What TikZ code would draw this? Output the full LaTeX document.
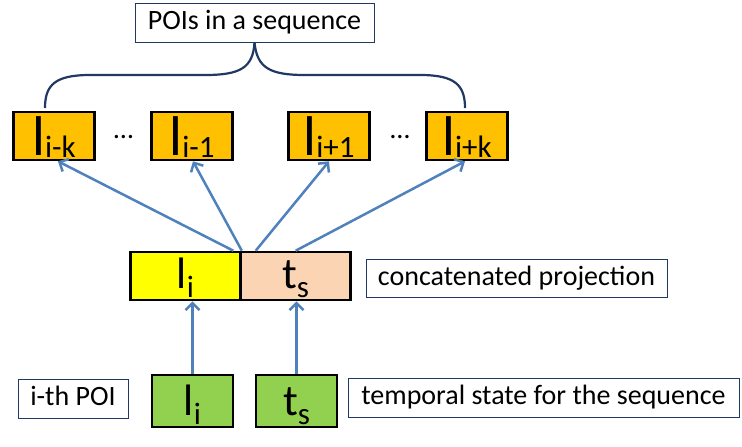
\documentclass[tikz,border=0pt]{standalone}
\usepackage{fontspec}
\setmainfont{Carlito}
\usetikzlibrary{arrows.meta}
\definecolor{ctxorange}{HTML}{FFC000}
\definecolor{projyellow}{HTML}{FFFF00}
\definecolor{projpeach}{HTML}{FBD4B4}
\definecolor{inpgreen}{HTML}{92D050}
\definecolor{arrowblue}{HTML}{4F81BD}
\definecolor{navy}{HTML}{1F3864}
\newcommand{\ctxtext}[1]{{\fontsize{56}{56}\selectfont l}\raisebox{-2pt}{\fontsize{31}{31}\selectfont #1}}
\newcommand{\vectext}[2]{{\fontsize{44}{44}\selectfont #1}\raisebox{-9pt}{\fontsize{31}{31}\selectfont #2}}
\begin{document}
\begin{tikzpicture}[x=1pt,y=1pt]
				\tikzstyle{every node}+=[inner sep=0pt]
				\tikzstyle{ctxbox}=[draw=black, line width=2.6pt, fill=ctxorange, minimum width=81pt, minimum height=48pt, text height=40pt, text depth=2pt]
				\tikzstyle{projbox}=[draw=black, line width=2.6pt, minimum width=110pt, minimum height=48pt, text height=33pt, text depth=9pt]
				\tikzstyle{inbox}=[draw=black, line width=2.6pt, fill=inpgreen, minimum width=81pt, minimum height=52pt, text height=36pt, text depth=8pt]
				\tikzstyle{lblbox}=[draw=navy, line width=1pt, fill=white, font=\fontsize{28}{32}\selectfont, text height=20pt, text depth=6pt]
				\tikzstyle{link}=[draw=arrowblue, line width=2.5pt, -{Straight Barb[length=7pt,width=14pt]}]
				\useasboundingbox (0,0) rectangle (742,-447);
				% label on top and the brace
				\node [lblbox, minimum width=239pt, minimum height=39pt] (lblseq) at (254.5,-22.5) {POIs in a sequence};
				\coordinate (bracel) at (45,-108);
				\coordinate (bracer) at (465,-108);
				\draw [navy, line width=2.2pt] (bracel) .. controls (45,-85) and (55,-75) .. (90,-75) -- (205,-75) .. controls (240,-75) and (253,-68) .. (lblseq.south);
				\draw [navy, line width=2.2pt] (bracer) .. controls (465,-85) and (455,-75) .. (420,-75) -- (305,-75) .. controls (270,-75) and (257,-68) .. (lblseq.south);
				% context POIs
				\node [ctxbox] (ctxa) at (54,-136) {\ctxtext{i-k}\hspace{18pt}};
				\node [ctxbox] (ctxb) at (192,-136) {\ctxtext{i-1}};
				\node [ctxbox] (ctxc) at (329,-136) {\ctxtext{i+1}};
				\node [ctxbox] (ctxd) at (467,-136) {\ctxtext{i+k}};
				\node [font=\fontsize{28}{28}\selectfont] (dotsl) at (123.5,-137) {…};
				\node [font=\fontsize{28}{28}\selectfont] (dotsr) at (400,-137) {…};
				% concatenated projection
				\node [projbox, fill=projyellow] (projl) at (185.5,-276) {\vectext{l}{i}};
				\node [projbox, fill=projpeach] (projt) at (295.5,-276) {\vectext{t}{s}};
				\node [lblbox, minimum width=301pt, minimum height=38pt] (lblproj) at (516.5,-278) {concatenated projection};
				% inputs
				\node [inbox] (inl) at (192.5,-401) {\vectext{l}{i}};
				\node [inbox] (int) at (296.5,-401) {\vectext{t}{s}};
				\node [lblbox, minimum width=110pt, minimum height=39pt] (lblpoi) at (73,-398.5) {i-th POI};
				\node [lblbox, minimum width=391pt, minimum height=39pt] (lbltemp) at (543.5,-397.5) {temporal state for the sequence};
				% arrows
				\draw [link] (inl.north) -- (inl.north |- projl.south);
				\draw [link] (int.north) -- (int.north |- projt.south);
				\draw [link] ([xshift=-8.5pt]projl.north east) -- ([xshift=4pt]ctxa.south);
				\draw [link] (projl.north east) -- ([xshift=1pt]ctxb.south);
				\draw [link] ([xshift=16.5pt]projt.north west) -- (ctxc.south);
				\draw [link] ([xshift=56.5pt]projt.north west) -- ([xshift=-2pt]ctxd.south);
\end{tikzpicture}
\end{document}
